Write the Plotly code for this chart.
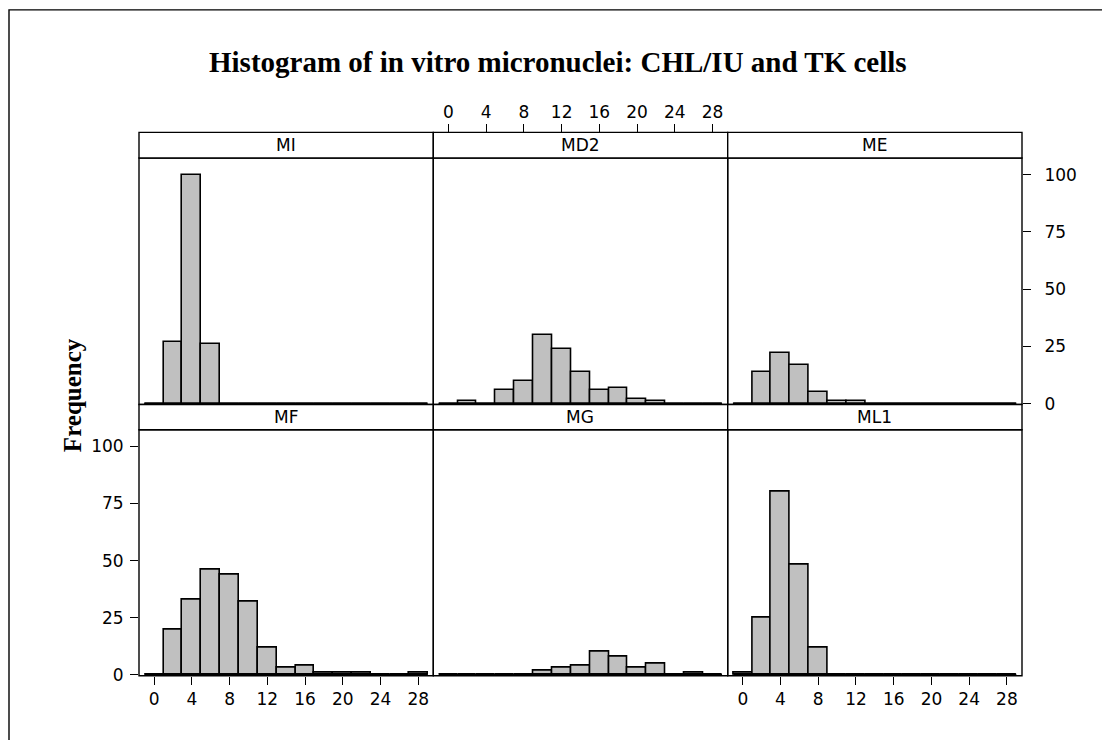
import plotly.graph_objects as go

# ---- data ----
bins = [0, 2, 4, 6, 8, 10, 12, 14, 16, 18, 20, 22, 24, 26, 28]
panels = ["MI", "MD2", "ME", "MF", "MG", "ML1"]
MI = [0, 27, 100, 26, 0, 0, 0, 0, 0, 0, 0, 0, 0, 0, 0]
MD2 = [0, 1, 0, 6, 10, 30, 24, 14, 6, 7, 2, 1, 0, 0, 0]
ME = [0, 14, 22, 17, 5, 1, 1, 0, 0, 0, 0, 0, 0, 0, 0]
MF = [0, 20, 33, 46, 44, 32, 12, 3, 4, 1, 1, 1, 0, 0, 1]
MG = [0, 0, 0, 0, 0, 2, 3, 4, 10, 8, 3, 5, 0, 1, 0]
ML1 = [1, 25, 80, 48, 12, 0, 0, 0, 0, 0, 0, 0, 0, 0, 0]
series = [MI, MD2, ME, MF, MG, ML1]
xticks = [0, 4, 8, 12, 16, 20, 24, 28]
yticks = [0, 25, 50, 75, 100]
title = "Histogram of in vitro micronuclei: CHL/IU and TK cells"
ylabel = "Frequency"

# ---- layout geometry (pixels) ----
W, H = 1102, 740
cols = [(139, 433.3), (433.3, 727.7), (727.7, 1022)]
rows_plot = [(160, 409.5), (435, 684)]
rows_strip = [(134, 160), (409.5, 435)]
BW = bins[1] - bins[0]


def px(x):
    return x / W


def py(y):
    return 1 - y / H


TICKFONT = dict(family="DejaVu Sans", size=17, color="black")
LW = 1.4

fig = go.Figure()
layout = dict(
    width=W, height=H,
    margin=dict(l=0, r=0, t=0, b=0),
    paper_bgcolor="white", plot_bgcolor="white",
    showlegend=False,
    bargap=0,
)
shapes = []
annotations = []

for i, (name, vals) in enumerate(zip(panels, series)):
    r, c = divmod(i, 3)
    k = i + 1
    xa = "x" if k == 1 else f"x{k}"
    ya = "y" if k == 1 else f"y{k}"
    fig.add_trace(go.Bar(
        x=bins, y=vals, width=BW, xaxis=xa, yaxis=ya,
        marker=dict(color="#C0C0C0", line=dict(color="black", width=1.6)),
    ))
    fig.add_trace(go.Scatter(
        x=[bins[0] - BW / 2, bins[-1] + BW / 2], y=[0, 0], mode="lines",
        xaxis=xa, yaxis=ya, line=dict(color="black", width=2.5),
        hoverinfo="skip",
    ))
    x0, x1 = cols[c]
    y0, y1 = rows_plot[r]
    xaxis = dict(
        domain=[px(x0), px(x1)], range=[-1.6, 29.6], anchor=ya,
        showgrid=False, zeroline=False, showline=False,
        tickvals=xticks, ticks="", showticklabels=False,
        tickfont=TICKFONT, ticklen=8, tickwidth=LW, tickcolor="black",
        fixedrange=True,
    )
    yaxis = dict(
        domain=[py(y1), py(y0)], range=[-0.3, 107.2], anchor=xa,
        showgrid=False, zeroline=False, showline=False,
        tickvals=yticks, ticks="", showticklabels=False,
        tickfont=TICKFONT, ticklen=8, tickwidth=LW, tickcolor="black",
        fixedrange=True,
    )
    if name == "MD2":
        xaxis.update(anchor="free", position=py(rows_strip[0][0]), side="top",
                     ticks="outside", showticklabels=True)
    if name in ("MF", "ML1"):
        xaxis.update(ticks="outside", showticklabels=True)
    if name == "ME":
        yaxis.update(side="right", ticks="outside", showticklabels=True,
                     ticklabelstandoff=10)
    if name == "MF":
        yaxis.update(side="left", ticks="outside", showticklabels=True,
                     ticklabelstandoff=3)
    layout["xaxis" if k == 1 else f"xaxis{k}"] = xaxis
    layout["yaxis" if k == 1 else f"yaxis{k}"] = yaxis

    # panel box
    shapes.append(dict(type="rect", xref="paper", yref="paper",
                       x0=px(x0), x1=px(x1), y0=py(y1), y1=py(y0),
                       line=dict(color="black", width=LW), layer="above"))
    # strip
    s0, s1 = rows_strip[r]
    shapes.append(dict(type="rect", xref="paper", yref="paper",
                       x0=px(x0), x1=px(x1), y0=py(s1), y1=py(s0),
                       line=dict(color="black", width=LW), fillcolor="white"))
    annotations.append(dict(text=name, xref="paper", yref="paper",
                            x=px((x0 + x1) / 2), y=py((s0 + s1) / 2),
                            xanchor="center", yanchor="middle", showarrow=False,
                            font=TICKFONT))

# outer frame
shapes.append(dict(type="rect", xref="paper", yref="paper",
                   x0=px(9), x1=px(W + 20), y0=py(H + 20), y1=py(10),
                   line=dict(color="black", width=LW)))

annotations.append(dict(text=f"<b>{title}</b>", xref="paper", yref="paper",
                        x=px(558), y=py(63), xanchor="center", yanchor="middle",
                        showarrow=False,
                        font=dict(family="Liberation Serif", size=29, color="black")))
annotations.append(dict(text=f"<b>{ylabel}</b>", xref="paper", yref="paper",
                        x=px(72), y=py(400), xanchor="center", yanchor="middle",
                        textangle=-90, showarrow=False,
                        font=dict(family="Liberation Serif", size=25, color="black")))

layout["shapes"] = shapes
layout["annotations"] = annotations
fig.update_layout(**layout)
fig.write_html("out.html")
